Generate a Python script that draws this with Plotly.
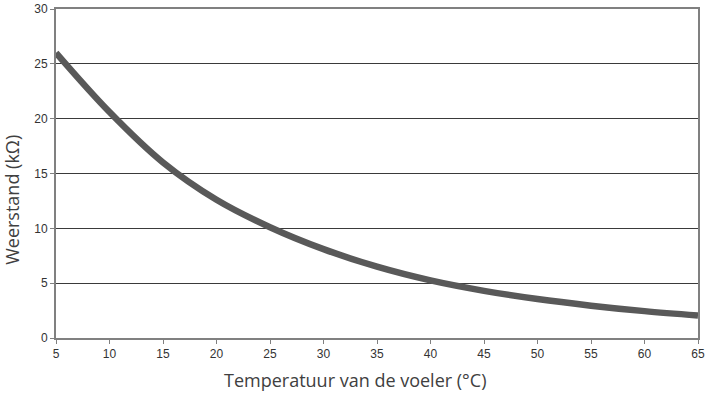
import plotly.graph_objects as go

# Temperatuur (°C) en weerstand (kΩ)
temperatuur = [5, 10, 15, 20, 25, 30, 35, 40, 45, 50, 55, 60, 65]
weerstand = [26.0, 20.6, 16.0, 12.6, 10.1, 8.1, 6.5, 5.25, 4.3, 3.55, 2.95, 2.45, 2.05]

x_ticks = [5, 10, 15, 20, 25, 30, 35, 40, 45, 50, 55, 60, 65]
y_ticks = [0, 5, 10, 15, 20, 25, 30]

fig = go.Figure()
fig.add_trace(go.Scatter(
    x=temperatuur, y=weerstand, mode='lines',
    line=dict(color='#595959', width=6.5, shape='spline', smoothing=1.0),
    showlegend=False, hoverinfo='skip'
))

axis_font = dict(family='Liberation Sans', size=12, color='#333333')
title_font = dict(family='Open Sans', size=18, color='#404040')

fig.update_xaxes(
    range=[5, 65], tickvals=x_ticks, ticks='outside', ticklen=4, tickcolor='#808080',
    showline=True, linecolor='#808080', linewidth=2, mirror=True, automargin=False,
    showgrid=False, zeroline=False, tickfont=axis_font
)
fig.update_yaxes(
    range=[0, 30], tickvals=y_ticks, ticks='outside', ticklen=4, tickcolor='#808080',
    showline=True, linecolor='#808080', linewidth=2, mirror=True, automargin=False,
    showgrid=True, gridcolor='#3a3a3a', gridwidth=1, zeroline=False, tickfont=axis_font
)

# astitels als annotaties, zodat ze net als in het origineel staan
fig.add_annotation(text='Temperatuur van de voeler (°C)', xref='paper', yref='paper',
                   x=0.466, y=-0.128, showarrow=False, font=title_font,
                   xanchor='center', yanchor='middle')
fig.add_annotation(text='Weerstand (kΩ)', xref='paper', yref='paper',
                   x=-0.0685, y=0.42, showarrow=False, font=title_font, textangle=-90,
                   xanchor='center', yanchor='middle')

fig.update_layout(
    width=705, height=393,
    margin=dict(l=56, r=7, t=9, b=55),
    paper_bgcolor='white', plot_bgcolor='white'
)

# geen standaard paginamarge rond de figuur
fig.write_html("out.html", config={'displayModeBar': False},
               post_script="document.body.style.margin='0';")
